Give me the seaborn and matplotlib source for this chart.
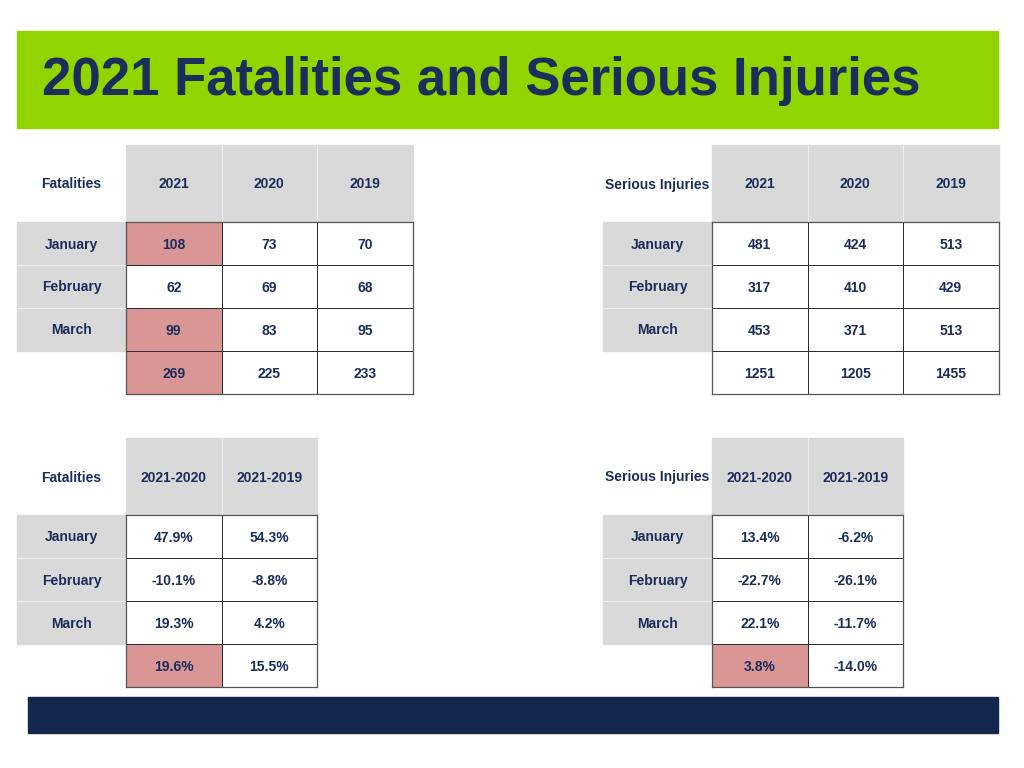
import numpy as np
import matplotlib
matplotlib.use("Agg")
import matplotlib.pyplot as plt
from matplotlib.colors import ListedColormap
from matplotlib.patches import Rectangle
import seaborn as sns

# values
months = ["January", "February", "March"]
count_years = ["2021", "2020", "2019"]
pct_years = ["2021-2020", "2021-2019"]

fatal_2021 = ["108", "62", "99", "269"]
fatal_2020 = ["73", "69", "83", "225"]
fatal_2019 = ["70", "68", "95", "233"]
fatal_hi_2021 = [1, 0, 1, 1]

injury_2021 = ["481", "317", "453", "1251"]
injury_2020 = ["424", "410", "371", "1205"]
injury_2019 = ["513", "429", "513", "1455"]

fatal_vs_2020 = ["47.9%", "-10.1%", "19.3%", "19.6%"]
fatal_vs_2019 = ["54.3%", "-8.8%", "4.2%", "15.5%"]
fatal_pct_hi = [0, 0, 0, 1]

injury_vs_2020 = ["13.4%", "-22.7%", "22.1%", "3.8%"]
injury_vs_2019 = ["-6.2%", "-26.1%", "-11.7%", "-14.0%"]
injury_pct_hi = [0, 0, 0, 1]

NAVY = "#1b2d5a"
GRAY = "#d9d9d9"
PINK = "#d99694"
GREEN = "#92d400"
W, H = 1024, 768


def draw_table(fig, bg, x0, y0, corner, cols, columns, highlight):
    """Draws one table: gray header, gray month labels and a heatmap body."""
    col_w, head_h, row_h, lab_w = 95.5, 77, 43, 109
    n_cols = len(cols)
    grid_x = x0 + lab_w
    body_y = y0 + head_h

    # header band and month labels
    bg.add_patch(Rectangle((grid_x, y0), col_w * n_cols, head_h,
                           color=GRAY, zorder=1))
    bg.add_patch(Rectangle((x0, body_y), lab_w, row_h * 3,
                           color=GRAY, zorder=1))
    for i in range(1, n_cols):
        bg.plot([grid_x + i * col_w] * 2, [y0, body_y], color="white",
                lw=0.8, alpha=0.6, zorder=2)
    for j in range(1, 3):
        bg.plot([x0, grid_x], [body_y + j * row_h] * 2, color="white",
                lw=0.8, alpha=0.6, zorder=2)

    txt = dict(ha="center", va="center", color=NAVY, fontsize=10,
               fontweight="bold", zorder=3)
    bg.text(x0 + lab_w / 2, y0 + head_h / 2 + 1, corner, **txt)
    for i, c in enumerate(cols):
        bg.text(grid_x + (i + 0.5) * col_w, y0 + head_h / 2 + 1, c, **txt)
    for j, m in enumerate(months):
        bg.text(x0 + lab_w / 2, body_y + (j + 0.5) * row_h + 1, m, **txt)

    # body cells through seaborn heatmap
    labels = np.array(columns).T
    hi = np.zeros(labels.shape)
    hi[:, 0] = highlight
    ax = fig.add_axes([grid_x / W, 1 - (body_y + 4 * row_h) / H,
                       col_w * n_cols / W, 4 * row_h / H])
    sns.heatmap(hi, annot=labels, fmt="", cbar=False, ax=ax,
                cmap=ListedColormap(["white", PINK]), vmin=0, vmax=1,
                linewidths=0.7, linecolor="#2e2e2e",
                xticklabels=False, yticklabels=False,
                annot_kws={"color": NAVY, "fontsize": 10,
                           "fontweight": "bold"})
    for t in ax.texts:
        t.set_y(t.get_position()[1] + 0.03)
    for s in ax.spines.values():
        s.set_visible(True)
        s.set_color("#555555")
        s.set_linewidth(0.9)


def main():
    sns.set_theme(style="white")
    plt.rcParams["font.family"] = ["Liberation Sans", "DejaVu Sans"]

    fig = plt.figure(figsize=(10.24, 7.68), dpi=100)
    bg = fig.add_axes([0, 0, 1, 1])
    bg.set_xlim(0, W)
    bg.set_ylim(H, 0)
    bg.axis("off")

    # title band and footer band
    bg.add_patch(Rectangle((17, 31), 981, 97, color=GREEN, zorder=1))
    bg.text(42, 81, "2021 Fatalities and Serious Injuries", ha="left",
            va="center", color=NAVY, fontsize=38, fontweight="bold",
            zorder=3)
    bg.add_patch(Rectangle((28, 697), 970, 36, color="#13274f", zorder=1))

    draw_table(fig, bg, 17, 145, "Fatalities", count_years,
               [fatal_2021, fatal_2020, fatal_2019], fatal_hi_2021)
    draw_table(fig, bg, 603, 145, "Serious Injuries", count_years,
               [injury_2021, injury_2020, injury_2019], [0, 0, 0, 0])
    draw_table(fig, bg, 17, 438, "Fatalities", pct_years,
               [fatal_vs_2020, fatal_vs_2019], fatal_pct_hi)
    draw_table(fig, bg, 603, 438, "Serious Injuries", pct_years,
               [injury_vs_2020, injury_vs_2019], injury_pct_hi)

    fig.savefig("out.png", dpi=100)


if __name__ == "__main__":
    main()
